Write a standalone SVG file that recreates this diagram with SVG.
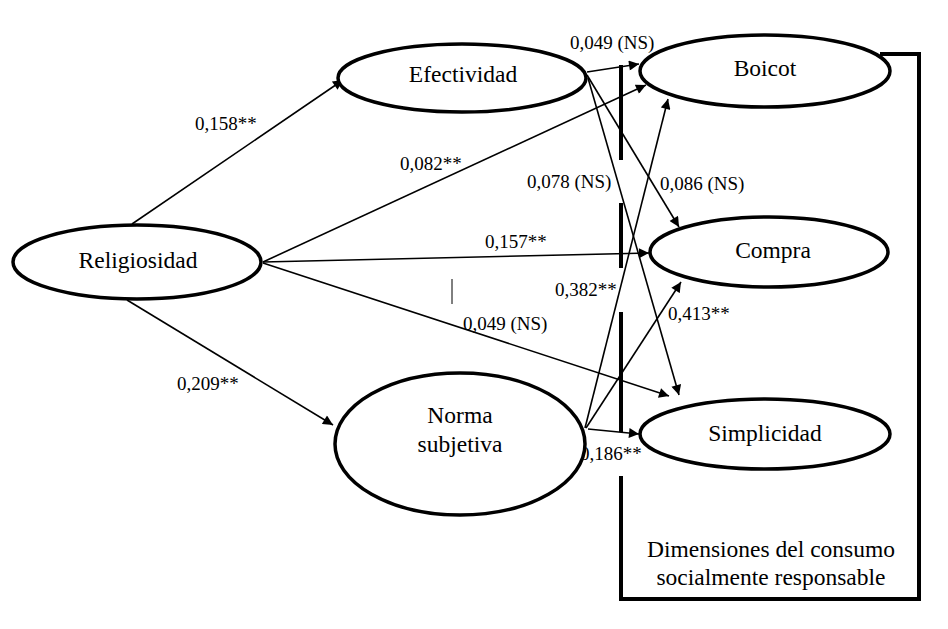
<svg xmlns="http://www.w3.org/2000/svg" width="948" height="629" viewBox="0 0 948 629">
<defs>
<style>
.node{fill:#fff;stroke:#000;stroke-width:3.5}
.nt{font-family:"Liberation Serif","Times New Roman",serif;font-size:23.5px;text-anchor:middle;fill:#000}
.lb{font-family:"Liberation Serif","Times New Roman",serif;font-size:19px;fill:#000}
.e{stroke:#000;stroke-width:1.6;fill:none;marker-end:url(#ah)}
.bar{stroke:#000;stroke-width:4;fill:none}
</style>
<marker id="ah" viewBox="0 0 10 10" refX="10" refY="5" markerWidth="12" markerHeight="10" markerUnits="userSpaceOnUse" orient="auto">
<path d="M0,0 L10,5 L0,10 z" fill="#000"/>
</marker>
</defs>
<rect width="948" height="629" fill="#fff"/>
<g id="frame">
<polyline class="bar" points="880,54 919,54 919,599 621,599 621,476"/>
<line class="bar" x1="621" y1="65" x2="621" y2="160"/>
<line class="bar" x1="621" y1="203" x2="621" y2="268"/>
<line class="bar" x1="621" y1="312" x2="621" y2="432"/>
<line x1="452" y1="279" x2="452" y2="304" stroke="#000" stroke-width="1"/>
<text class="nt" x="771" y="557">Dimensiones del consumo</text>
<text class="nt" x="771" y="585">socialmente responsable</text>
</g>
<g id="connectors">
<line class="e" x1="132" y1="224" x2="343" y2="80"/>
<line class="e" x1="263" y1="262" x2="646" y2="85"/>
<line class="e" x1="263" y1="262" x2="649" y2="253"/>
<line class="e" x1="263" y1="263" x2="669" y2="396"/>
<line class="e" x1="127" y1="300" x2="333" y2="425"/>
<line class="e" x1="587" y1="72" x2="639" y2="64"/>
<line class="e" x1="587" y1="75" x2="679" y2="227"/>
<line class="e" x1="588" y1="78" x2="679" y2="395"/>
<line class="e" x1="585" y1="428" x2="668" y2="99"/>
<line class="e" x1="586" y1="428" x2="681" y2="282"/>
<line class="e" x1="588" y1="429" x2="639" y2="434"/>
<text class="lb" x="195" y="130">0,158**</text>
<text class="lb" x="400" y="170">0,082**</text>
<text class="lb" x="485" y="248">0,157**</text>
<text class="lb" x="570" y="49">0,049 (NS)</text>
<text class="lb" x="527" y="188">0,078 (NS)</text>
<text class="lb" x="660" y="190">0,086 (NS)</text>
<text class="lb" x="555" y="296">0,382**</text>
<text class="lb" x="668" y="320">0,413**</text>
<text class="lb" x="463" y="330">0,049 (NS)</text>
<text class="lb" x="177" y="390">0,209**</text>
<text class="lb" x="580" y="460">0,186**</text>
</g>
<g id="religiosidad">
<ellipse class="node" cx="137" cy="262" rx="124" ry="37"/>
<text class="nt" x="138" y="268">Religiosidad</text>
</g>
<g id="efectividad">
<ellipse class="node" cx="462" cy="78" rx="124" ry="34"/>
<text class="nt" x="463" y="82">Efectividad</text>
</g>
<g id="norma">
<ellipse class="node" cx="460" cy="444" rx="125" ry="71"/>
<text class="nt" x="460" y="423">Norma</text>
<text class="nt" x="460" y="452">subjetiva</text>
</g>
<g id="boicot">
<ellipse class="node" cx="765" cy="71" rx="125" ry="36"/>
<text class="nt" x="765" y="76">Boicot</text>
</g>
<g id="compra">
<ellipse class="node" cx="769" cy="252" rx="119" ry="35"/>
<text class="nt" x="773" y="258">Compra</text>
</g>
<g id="simplicidad">
<ellipse class="node" cx="765" cy="434" rx="125" ry="35"/>
<text class="nt" x="765" y="441">Simplicidad</text>
</g>
</svg>
